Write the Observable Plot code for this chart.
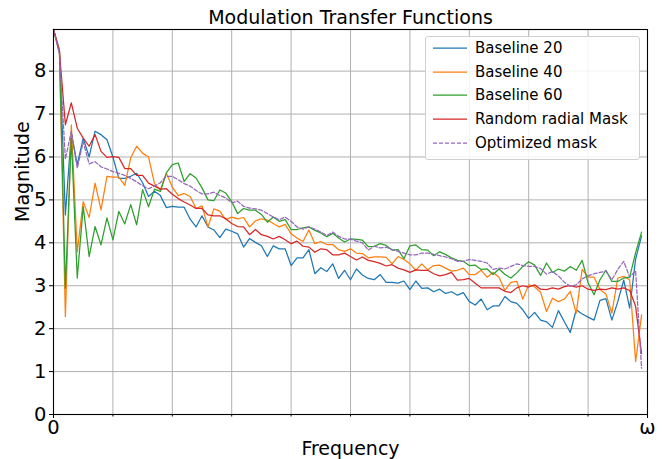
<!DOCTYPE html>
<html>
<head>
<meta charset="utf-8">
<script src="https://cdn.jsdelivr.net/npm/d3@7"></script>
<script src="https://cdn.jsdelivr.net/npm/@observablehq/plot@0.6"></script>
<style>
  html, body { margin: 0; padding: 0; background: white; }
  #wrap { position: relative; width: 663px; height: 459px; font-family: "DejaVu Sans", sans-serif; }
  #legend { position: absolute; left: 425px; top: 36px; width: 215px; height: 124px;
    background: rgba(255,255,255,0.85); border: 1px solid #d0d0d0; border-radius: 3px; box-sizing: border-box; }
  .row { position: absolute; left: 0; height: 20px; }
  .row svg { position: absolute; left: 6px; top: 0; }
  .row span { position: absolute; left: 49px; top: 0; font-size: 15px; line-height: 20px; white-space: nowrap; color: #000; }
</style>
</head>
<body>
<div id="wrap"><div id="legend"></div></div>
<script>
const title = "Modulation Transfer Functions";
const xLabel = "Frequency";
const yLabel = "Magnitude";
const seriesNames = ["Baseline 20", "Baseline 40", "Baseline 60", "Random radial Mask", "Optimized mask"];
const seriesColors = ["#1f77b4", "#ff7f0e", "#2ca02c", "#d62728", "#9467bd"];
const seriesDash = [null, null, null, null, "4,2"];
const yTicks = [0, 1, 2, 3, 4, 5, 6, 7, 8];
const xMajorTicks = [0, 100];
const xMajorLabels = ["0", "ω"];
const xMinorTicks = [10, 20, 30, 40, 50, 60, 70, 80, 90];

const baseline20 = [8.97,8.50,4.65,6.56,5.82,6.44,6.00,6.60,6.52,6.40,
  6.00,5.50,5.50,5.55,5.62,5.40,5.08,5.20,5.10,4.82,
  4.85,4.83,4.83,4.55,4.37,4.63,4.37,4.30,4.12,4.32,
  4.27,4.21,3.90,4.10,4.01,3.93,3.68,3.93,3.86,3.86,
  3.47,3.65,3.65,3.84,3.28,3.42,3.33,3.51,3.17,3.36,
  3.14,3.39,3.25,3.17,3.14,3.26,3.08,3.08,3.06,3.11,
  2.91,3.11,2.94,2.95,2.86,2.92,2.82,2.86,2.78,2.84,
  2.63,2.55,2.69,2.44,2.53,2.53,2.75,2.63,2.59,2.44,
  2.24,2.38,2.20,2.16,2.03,2.42,2.16,1.91,2.44,2.34,
  2.27,2.20,2.66,2.70,2.20,2.63,3.13,2.48,3.62,4.16];
const baseline40 = [8.97,8.47,2.28,6.75,3.79,4.96,4.59,5.39,4.77,5.55,
  5.53,5.53,5.34,5.98,6.25,6.09,6.00,5.38,5.23,5.62,
  5.30,5.10,5.15,5.08,4.80,4.86,4.37,4.79,4.74,4.54,
  4.60,4.56,4.59,4.37,4.51,4.56,4.53,4.45,4.37,4.43,
  4.21,4.11,4.03,4.30,3.98,4.03,3.96,3.96,3.84,3.80,
  3.86,3.76,3.75,3.65,3.67,3.67,3.66,3.51,3.68,3.61,
  3.51,3.36,3.51,3.37,3.47,3.48,3.41,3.34,3.36,3.41,
  3.26,3.26,3.36,3.20,3.31,3.20,2.89,3.08,3.10,2.69,
  3.02,2.97,2.85,2.40,2.71,2.63,2.69,2.87,2.36,3.38,
  3.20,3.20,2.91,2.81,2.36,3.18,3.22,3.14,1.23,2.32];
const baseline60 = [8.97,8.45,2.94,6.44,3.18,4.85,3.68,4.38,3.95,4.58,
  4.07,4.73,4.44,4.89,4.42,5.24,4.84,5.25,5.20,5.63,
  5.82,5.86,5.43,5.61,5.51,5.28,5.00,4.98,5.23,5.16,
  4.96,4.68,4.80,4.76,4.76,4.66,4.48,4.60,4.50,4.54,
  4.31,4.31,4.35,4.37,4.29,4.23,4.14,4.22,4.11,4.02,
  4.09,4.08,4.06,3.91,3.92,3.98,3.94,3.83,3.84,3.63,
  3.93,3.95,3.84,3.83,3.70,3.79,3.73,3.65,3.59,3.57,
  3.47,3.48,3.38,3.39,3.26,3.39,3.26,3.18,3.30,3.45,
  3.56,3.48,3.24,3.53,3.31,3.39,3.34,3.45,3.36,3.59,
  3.07,2.79,3.14,3.36,3.10,3.10,3.18,3.20,3.77,4.25];
const randomRadial = [8.97,8.45,6.75,7.26,6.67,6.44,6.25,6.52,6.13,5.99,
  6.01,5.99,5.73,5.73,5.57,5.57,5.39,5.32,5.25,5.26,
  5.13,5.03,4.95,4.88,4.80,4.80,4.65,4.63,4.63,4.56,
  4.45,4.38,4.37,4.19,4.31,4.19,4.15,4.09,4.15,4.07,
  3.98,4.04,3.92,3.90,3.78,3.86,3.84,3.72,3.72,3.76,
  3.68,3.60,3.67,3.59,3.56,3.52,3.46,3.49,3.41,3.37,
  3.31,3.37,3.36,3.36,3.28,3.23,3.26,3.31,3.13,3.14,
  3.17,3.06,2.95,2.95,2.95,2.95,2.87,2.84,2.95,3.00,
  2.97,3.02,2.92,2.91,2.95,2.92,2.98,3.00,2.97,3.00,
  2.92,2.89,2.92,2.91,2.95,2.92,2.95,2.89,2.52,1.42];
const optimized = [8.97,8.40,5.95,6.60,5.74,6.35,5.84,5.89,5.77,5.72,
  5.66,5.62,5.57,5.50,5.42,5.33,5.26,5.32,5.40,5.55,
  5.55,5.47,5.38,5.32,5.22,5.14,5.14,5.18,5.10,5.05,
  4.93,4.97,4.85,4.81,4.79,4.76,4.68,4.60,4.54,4.60,
  4.50,4.37,4.32,4.37,4.32,4.25,4.17,4.25,4.15,4.09,
  4.08,4.04,4.00,3.83,3.92,3.88,3.90,3.84,3.80,3.76,
  3.72,3.72,3.76,3.76,3.73,3.70,3.67,3.63,3.57,3.57,
  3.61,3.59,3.57,3.53,3.38,3.41,3.39,3.45,3.51,3.47,
  3.45,3.45,3.40,3.27,3.33,3.23,3.08,2.99,3.02,3.16,
  3.23,3.28,3.31,3.34,3.14,3.38,3.57,3.20,3.35,1.08];

const allSeries = [baseline20, baseline40, baseline60, randomRadial, optimized];

const lineMarks = allSeries.map((vals, k) =>
  Plot.line(vals.map((v, i) => ({x: i, y: v})), {
    x: "x", y: "y",
    stroke: seriesColors[k],
    strokeWidth: 1.25,
    strokeDasharray: seriesDash[k] || undefined
  })
);

const gridStyle = {stroke: "#b0b0b0", strokeOpacity: 1, strokeWidth: 1};

const chart = Plot.plot({
  width: 663,
  height: 459,
  marginLeft: 53,
  marginRight: 16,
  marginTop: 29,
  marginBottom: 45,
  style: {fontFamily: "DejaVu Sans", background: "white", color: "black"},
  x: {domain: [0, 100]},
  y: {domain: [0, 8.97]},
  marks: [
    Plot.gridX(xMinorTicks, gridStyle),
    Plot.gridY(yTicks, gridStyle),
    ...lineMarks,
    Plot.frame({stroke: "black", strokeWidth: 1.1}),
    Plot.axisY(yTicks, {tickSize: 4, tickPadding: 3, fontSize: 19.5, label: null, stroke: "black"}),
    Plot.axisX(xMajorTicks, {tickSize: 4, tickPadding: 2, fontSize: 19.5, label: null,
      tickFormat: (d) => xMajorLabels[xMajorTicks.indexOf(d)], stroke: "black"}),
    Plot.axisX(xMinorTicks, {tickSize: 2.5, tickFormat: () => "", label: null, stroke: "black"}),
    Plot.text([title], {text: (d) => d, frameAnchor: "top", lineAnchor: "middle", dy: -12, fontSize: 19}),
    Plot.text([xLabel], {text: (d) => d, frameAnchor: "bottom", lineAnchor: "middle", dy: 34, fontSize: 19}),
    Plot.text([yLabel], {text: (d) => d, frameAnchor: "left", lineAnchor: "middle", dx: -31, rotate: -90, fontSize: 19})
  ]
});

const wrap = document.getElementById("wrap");
wrap.insertBefore(chart, wrap.firstChild);

const legend = document.getElementById("legend");
seriesNames.forEach((name, k) => {
  const row = document.createElement("div");
  row.className = "row";
  row.style.top = (1 + k * 23.7) + "px";
  const ns = "http://www.w3.org/2000/svg";
  const s = document.createElementNS(ns, "svg");
  s.setAttribute("width", "36");
  s.setAttribute("height", "20");
  const ln = document.createElementNS(ns, "line");
  ln.setAttribute("x1", "1"); ln.setAttribute("x2", "35");
  ln.setAttribute("y1", "10"); ln.setAttribute("y2", "10");
  ln.setAttribute("stroke", seriesColors[k]);
  ln.setAttribute("stroke-width", "1.25");
  if (seriesDash[k]) ln.setAttribute("stroke-dasharray", seriesDash[k]);
  s.appendChild(ln);
  const t = document.createElement("span");
  t.textContent = name;
  row.appendChild(s);
  row.appendChild(t);
  legend.appendChild(row);
});
</script>
</body>
</html>
